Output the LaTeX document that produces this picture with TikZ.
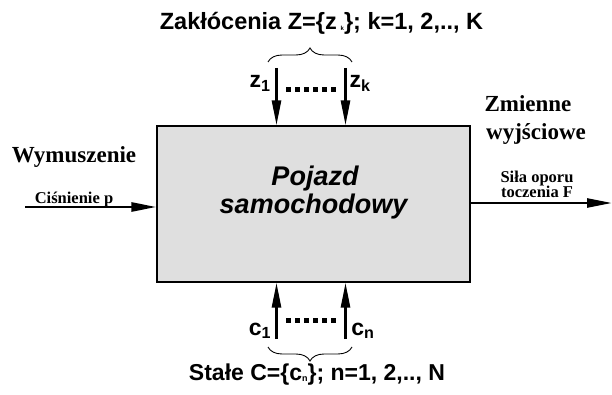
\documentclass[tikz,border=0pt]{standalone}
\usepackage{fontspec}
\setmainfont{Liberation Serif}
\setsansfont{Liberation Sans}
\usepackage{tikz}
\usetikzlibrary{arrows.meta,positioning,calc,decorations.pathreplacing}
\definecolor{boxgray}{HTML}{DFDFDF}

\begin{document}
\begin{tikzpicture}[x=1pt,y=1pt,every node/.style={inner sep=0pt,align=center},box/.style={draw,line width=1.2pt,fill=boxgray,minimum width=313pt,minimum height=156pt},arr/.style={-{Triangle[length=25pt,width=9pt]},line width=2.6pt},dots/.style={line width=5pt,dash pattern=on 5pt off 4pt},brc/.style={decorate,decoration={brace,amplitude=14pt},line width=0.9pt},boxtxt/.style={font=\sffamily\bfseries\itshape\fontsize{27}{30}\selectfont,anchor=base},sflbl/.style={font=\sffamily\bfseries\fontsize{23}{26}\selectfont,anchor=base},rmbig/.style={font=\rmfamily\bfseries\fontsize{23}{28}\selectfont,anchor=base},rmsmall/.style={font=\rmfamily\bfseries\fontsize{16.5}{18}\selectfont,anchor=base}]
\useasboundingbox (0,0) rectangle (612,394);
\node[box] (vehicle) at (313.5,190) {};
\node[boxtxt] (veh1) at (315,209) {Pojazd};
\node[boxtxt] (veh2) at (313.5,181) {samochodowy};
% disturbances
\coordinate (z1) at (276.5,326);
\coordinate (zk) at (345.5,326);
\draw[arr] (z1)--(z1 |- vehicle.north);
\draw[arr] (zk)--(zk |- vehicle.north);
\node[sflbl] (lz1) at (260,306) {z\textsubscript{1}};
\node[sflbl] (lzk) at (360,306) {z\textsubscript{k}};
\draw[dots] (286,304)--(336,304);
\draw[brc] (268,332)--(352,332);
\node[sflbl,font=\sffamily\bfseries\fontsize{23.5}{26}\selectfont] (ztitle) at (321.5,364) {Zakłócenia Z=\{z\,\raisebox{-1pt}{\fontsize{6}{6}\selectfont k}\}; k=1, 2,.., K};
% constants
\coordinate (c1) at (276.5,55);
\coordinate (cn) at (345.5,55);
\draw[arr] (c1)--(c1 |- vehicle.south);
\draw[arr] (cn)--(cn |- vehicle.south);
\node[sflbl] (lc1) at (260,59) {c\textsubscript{1}};
\node[sflbl] (lcn) at (363,59) {c\textsubscript{n}};
\draw[dots] (286,74)--(336,74);
\draw[brc] (352,47)--(268,47);
\node[sflbl] (ctitle) at (317,14) {Stałe C=\{c\raisebox{-1pt}{\fontsize{9}{9}\selectfont n}\}; n=1, 2,.., N};
% input
\node[rmbig] (inp) at (74,232) {Wymuszenie};
\node[rmsmall] (pres) at (74,191) {Ciśnienie p};
\coordinate (pin) at (25,187);
\draw[arr] (pin)--(pin -| vehicle.west);
% output
\node[rmbig] (out1) at (528,282) {Zmienne};
\node[rmbig] (out2) at (536,254) {wyjściowe};
\node[rmsmall] (force1) at (537,212) {Siła oporu};
\node[rmsmall] (force2) at (537,197) {toczenia F};
\coordinate (fout) at (612,191);
\draw[arr] (fout -| vehicle.east)--(fout);
\end{tikzpicture}
\end{document}
